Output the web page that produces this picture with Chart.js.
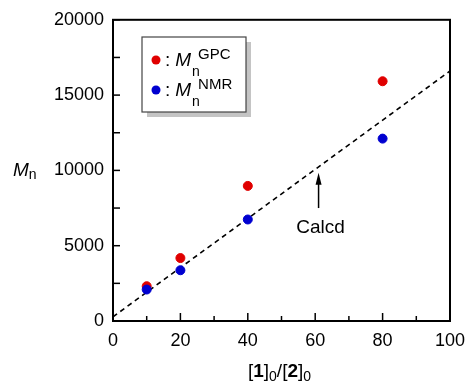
<!DOCTYPE html>
<html>
<head>
<meta charset="utf-8">
<script src="https://cdn.jsdelivr.net/npm/chart.js@4.4.1/dist/chart.umd.min.js"></script>
<style>
  html, body { margin: 0; padding: 0; background: #fff; }
  #wrap { width: 465px; height: 383px; position: relative; }
</style>
</head>
<body>
<div id="wrap"><canvas id="mnChart"></canvas></div>
<script>
// [1]0/[2]0 ratios
const ratios = [10, 20, 40, 80];
const mnGPC = [2310, 4180, 8970, 15920];
const mnNMR = [2090, 3370, 6740, 12110];

// calculated line end points
const calcdX = [0, 100];
const calcdY = [280, 16600];

const xTicksMajor = [0, 20, 40, 60, 80, 100];
const yTicksMajor = [0, 5000, 10000, 15000, 20000];

// annotation arrow (data coords)
const arrowX = 61;
const arrowFrom = 7500;
const arrowTo = 9850;

const FONT = "'Liberation Sans', Arial, Helvetica, sans-serif";
const RED = "#e00000";
const BLUE = "#0000d0";

function drawParts(ctx, x, y, parts) {
  let cx = x;
  parts.forEach((p) => {
    ctx.font = p.font;
    ctx.fillText(p.text, cx, y + (p.dy || 0));
    cx += ctx.measureText(p.text).width + (p.gap || 0);
  });
  return cx;
}

function partsWidth(ctx, parts) {
  let w = 0;
  parts.forEach((p) => {
    ctx.font = p.font;
    w += ctx.measureText(p.text).width + (p.gap || 0);
  });
  return w;
}

const decorPlugin = {
  id: "decor",
  afterDraw(chart) {
    const ctx = chart.ctx;
    const area = chart.chartArea;
    const xs = chart.scales.x;
    const ys = chart.scales.y;
    ctx.save();

    // frame
    ctx.strokeStyle = "#000";
    ctx.lineWidth = 2;
    ctx.strokeRect(area.left, area.top, area.right - area.left, area.bottom - area.top);

    // inward ticks
    ctx.lineWidth = 1.5;
    xs.ticks.forEach((t) => {
      const px = xs.getPixelForValue(t.value);
      const len = t.value % 20 === 0 ? 8 : 5;
      ctx.beginPath();
      ctx.moveTo(px, area.bottom);
      ctx.lineTo(px, area.bottom - len);
      ctx.stroke();
    });
    ys.ticks.forEach((t) => {
      const py = ys.getPixelForValue(t.value);
      ctx.beginPath();
      ctx.moveTo(area.left, py);
      ctx.lineTo(area.left + 7, py);
      ctx.stroke();
    });

    // y title
    ctx.fillStyle = "#000";
    ctx.textBaseline = "alphabetic";
    ctx.textAlign = "left";
    drawParts(ctx, 13, 176, [
      { text: "M", font: "italic 19px " + FONT },
      { text: "n", font: "14px " + FONT, dy: 3 },
    ]);

    // x title
    const xt = [
      { text: "[", font: "19px " + FONT },
      { text: "1", font: "bold 19px " + FONT },
      { text: "]", font: "19px " + FONT },
      { text: "0", font: "14px " + FONT, dy: 4 },
      { text: "/[", font: "19px " + FONT },
      { text: "2", font: "bold 19px " + FONT },
      { text: "]", font: "19px " + FONT },
      { text: "0", font: "14px " + FONT, dy: 4 },
    ];
    const xtw = partsWidth(ctx, xt);
    drawParts(ctx, (area.left + area.right) / 2 - xtw / 2 - 2, 377, xt);

    // arrow + label
    const ax = xs.getPixelForValue(arrowX);
    const ay0 = ys.getPixelForValue(arrowFrom);
    const ay1 = ys.getPixelForValue(arrowTo);
    ctx.lineWidth = 1.5;
    ctx.beginPath();
    ctx.moveTo(ax, ay0);
    ctx.lineTo(ax, ay1 + 8);
    ctx.stroke();
    ctx.beginPath();
    ctx.moveTo(ax, ay1);
    ctx.lineTo(ax - 3, ay1 + 12);
    ctx.lineTo(ax + 3, ay1 + 12);
    ctx.closePath();
    ctx.fill();
    ctx.font = "19px " + FONT;
    ctx.textAlign = "center";
    ctx.fillText("Calcd", ax + 2, ay0 + 25);
    ctx.textAlign = "left";

    // legend
    ctx.fillStyle = "#c4c4c4";
    ctx.fillRect(147, 42, 104, 75);
    ctx.fillStyle = "#fff";
    ctx.fillRect(142, 37, 104, 75);
    ctx.strokeStyle = "#444";
    ctx.lineWidth = 1.2;
    ctx.strokeRect(142, 37, 104, 75);

    const rows = [
      { color: RED, sup: "GPC", y: 60 },
      { color: BLUE, sup: "NMR", y: 90 },
    ];
    rows.forEach((r) => {
      ctx.fillStyle = r.color;
      ctx.beginPath();
      ctx.arc(156, r.y, 4.5, 0, Math.PI * 2);
      ctx.fill();
      ctx.fillStyle = "#000";
      let cx = drawParts(ctx, 165, r.y + 6, [
        { text: ":", font: "19px " + FONT, gap: 5 },
        { text: "M", font: "italic 19px " + FONT, gap: 1 },
      ]);
      ctx.font = "14px " + FONT;
      ctx.fillText("n", cx, r.y + 16);
      ctx.font = "15px " + FONT;
      ctx.fillText(r.sup, cx + 6, r.y - 1);
    });

    ctx.restore();
  },
};

const ctx = document.getElementById("mnChart").getContext("2d");

new Chart(ctx, {
  type: "scatter",
  data: {
    datasets: [
      {
        label: "Mn GPC",
        data: ratios.map((x, i) => ({ x: x, y: mnGPC[i] })),
        backgroundColor: RED,
        borderColor: RED,
        pointRadius: 4.5,
        order: 2,
      },
      {
        label: "Mn NMR",
        data: ratios.map((x, i) => ({ x: x, y: mnNMR[i] })),
        backgroundColor: BLUE,
        borderColor: BLUE,
        pointRadius: 4.5,
        order: 1,
      },
      {
        type: "line",
        label: "Calcd",
        data: calcdX.map((x, i) => ({ x: x, y: calcdY[i] })),
        borderColor: "#000",
        borderWidth: 1.6,
        borderDash: [5, 4],
        pointRadius: 0,
        fill: false,
        order: 3,
      },
    ],
  },
  options: {
    responsive: true,
    maintainAspectRatio: false,
    animation: false,
    layout: {
      padding: { top: 18, right: 15, left: 0, bottom: 0 },
    },
    plugins: {
      legend: { display: false },
      tooltip: { enabled: false },
    },
    scales: {
      x: {
        type: "linear",
        min: 0,
        max: 100,
        afterFit: (scale) => {
          scale.height = 62;
          scale.paddingLeft = 0;
          scale.paddingRight = 0;
        },
        ticks: {
          stepSize: 10,
          padding: 9,
          color: "#000",
          font: { size: 18, family: FONT },
          maxRotation: 0,
          autoSkip: false,
          callback: function (value) {
            return xTicksMajor.includes(value) ? String(value) : "";
          },
        },
        grid: { display: false, drawTicks: false },
        border: { display: false },
      },
      y: {
        type: "linear",
        min: 0,
        max: 20000,
        afterFit: (scale) => {
          scale.width = 113;
        },
        ticks: {
          stepSize: 2500,
          padding: 9,
          color: "#000",
          font: { size: 18, family: FONT },
          autoSkip: false,
          callback: function (value) {
            return yTicksMajor.includes(value) ? String(value) : "";
          },
        },
        grid: { display: false, drawTicks: false },
        border: { display: false },
      },
    },
  },
  plugins: [decorPlugin],
});
</script>
</body>
</html>
